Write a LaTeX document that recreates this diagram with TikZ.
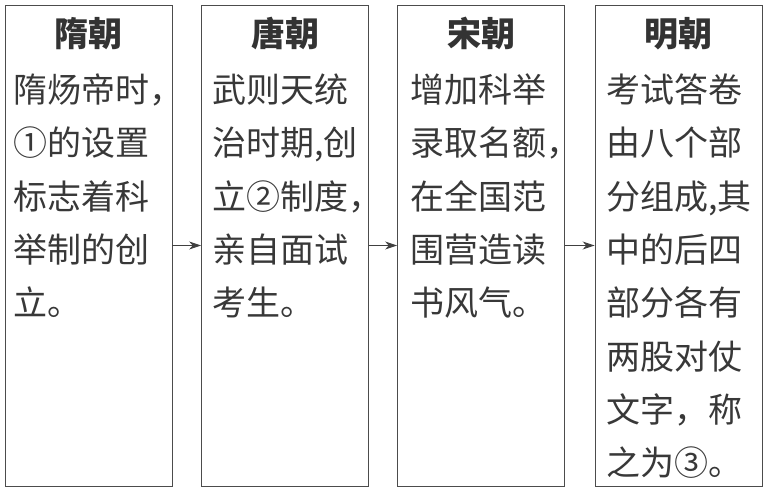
\documentclass[tikz,border=0pt]{standalone}
\usepackage{fontspec}
\newfontfamily\cjk{Noto Sans CJK SC}
\usetikzlibrary{arrows.meta}
\begin{document}
\begin{tikzpicture}[x=1pt,y=1pt,
  box/.style={draw=black!70, line width=0.9pt, minimum width=167pt, minimum height=481pt, inner sep=0pt},
  ttl/.style={font=\cjk\bfseries\fontsize{34}{34}\selectfont, anchor=base, inner sep=0pt, text=black!80},
  txt/.style={font=\cjk\fontsize{34}{34}\selectfont, anchor=base west, inner sep=0pt, text=black!78},
  arr/.style={-{Stealth[length=12pt,width=8pt]}, draw=black!75, line width=1pt}]
\useasboundingbox (0,0) rectangle (772,491);
\node[box] (b1) at (88.5,245.5) {};
\node[box] (b2) at (285,245.5) {};
\node[box] (b3) at (481,245.5) {};
\node[box] (b4) at (678.5,245.5) {};
\node[ttl] (t1) at (88.5,444.5) {隋朝};
\node[ttl] (t2) at (285,444.5) {唐朝};
\node[ttl] (t3) at (481,444.5) {宋朝};
\node[ttl] (t4) at (678.5,444.5) {明朝};
\foreach \t [count=\i from 0] in {隋炀帝时，,①的设置,标志着科,举制的创,立。}
  \node[txt] (a\i) at (13,388.5-53.3*\i) {\t};
\foreach \t [count=\i from 0] in {武则天统,{治时期,创},立②制度，,亲自面试,考生。}
  \node[txt] (c\i) at (212,388.5-53.3*\i) {\t};
\foreach \t [count=\i from 0] in {增加科举,录取名额，,在全国范,围营造读,书风气。}
  \node[txt] (d\i) at (410,388.5-53.3*\i) {\t};
\foreach \t [count=\i from 0] in {考试答卷,由八个部,{分组成,其},中的后四,部分各有,两股对仗,文字，称,之为③。}
  \node[txt] (e\i) at (606,388.5-53.3*\i) {\t};
\draw[arr] (b1.east) -- (b2.west);
\draw[arr] (b2.east) -- (b3.west);
\draw[arr] (b3.east) -- (b4.west);
\end{tikzpicture}
\end{document}
